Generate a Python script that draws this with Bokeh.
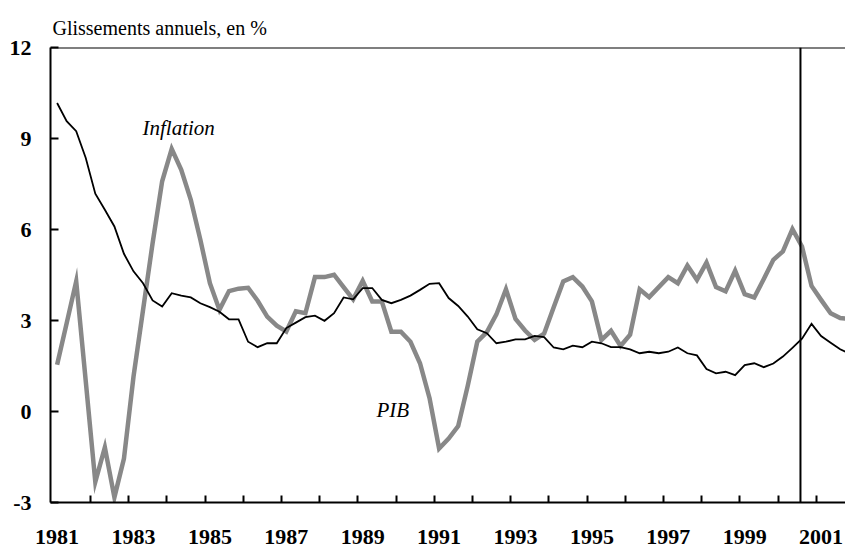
from bokeh.plotting import figure
from bokeh.models import Range1d, FixedTicker, Span, Label
from bokeh.embed import file_html
from bokeh.resources import INLINE

# Quarterly data, 1981Q1 .. 2001Q4
start_year = 1981
inflation = [10.17, 9.57, 9.24, 8.36, 7.18, 6.65, 6.10, 5.20, 4.62, 4.23,
             3.66, 3.46, 3.90, 3.82, 3.76, 3.57, 3.44, 3.29, 3.04, 3.04,
             2.30, 2.12, 2.25, 2.25, 2.75, 2.93, 3.11, 3.16, 2.99, 3.24,
             3.76, 3.70, 4.07, 4.07, 3.68, 3.57, 3.68, 3.82, 4.01, 4.21,
             4.23, 3.74, 3.48, 3.13, 2.71, 2.58, 2.25, 2.30, 2.38, 2.38,
             2.49, 2.45, 2.11, 2.05, 2.17, 2.12, 2.30, 2.25, 2.12, 2.12,
             2.05, 1.92, 1.97, 1.92, 1.97, 2.11, 1.92, 1.85, 1.40, 1.26,
             1.31, 1.20, 1.53, 1.59, 1.46, 1.58, 1.81, 2.10, 2.40, 2.89,
             2.49, 2.27, 2.05, 1.90]
pib = [1.54, 2.91, 4.29, 1.00, -2.32, -1.18, -2.83, -1.55, 1.15, 3.35,
       5.55, 7.59, 8.66, 7.97, 6.98, 5.66, 4.23, 3.35, 3.97, 4.05,
       4.08, 3.65, 3.13, 2.83, 2.64, 3.30, 3.24, 4.43, 4.43, 4.51,
       4.10, 3.70, 4.31, 3.63, 3.63, 2.63, 2.63, 2.30, 1.59, 0.44,
       -1.22, -0.89, -0.48, 0.85, 2.30, 2.62, 3.20, 4.03, 3.05, 2.67,
       2.36, 2.57, 3.44, 4.29, 4.43, 4.12, 3.63, 2.36, 2.66, 2.16,
       2.53, 4.03, 3.77, 4.10, 4.43, 4.23, 4.81, 4.34, 4.91, 4.10,
       3.96, 4.64, 3.87, 3.76, 4.37, 5.00, 5.28, 6.01, 5.44, 4.14,
       3.68, 3.24, 3.08, 3.05]
label_years = [1981, 1983, 1985, 1987, 1989, 1991, 1993, 1995, 1997, 1999, 2001]
y_ticks = [-3, 0, 3, 6, 9, 12]
forecast_start = 2000.46
title_text = "Glissements annuels, en %"

t = [start_year + i / 4 for i in range(len(inflation))]
boundaries = [y + 0.875 for y in range(1981, 2001)]

SERIF = "Liberation Serif"
p = figure(width=845, height=548, output_backend="svg", toolbar_location=None,
           x_range=Range1d(1980.827, 2001.639), y_range=Range1d(-3, 12),
           min_border_left=50, min_border_right=0, min_border_top=47,
           min_border_bottom=46, title=title_text)
p.title.text_font = SERIF
p.title.text_font_size = "20px"
p.title.text_font_style = "normal"
p.title.text_color = "black"
p.title.align = "left"
p.title.offset = 2
p.title.standoff = 18

p.xgrid.visible = False
p.ygrid.visible = False
p.outline_line_color = None
p.background_fill_color = "white"
p.border_fill_color = "white"

xa = p.xaxis[0]
xa.ticker = FixedTicker(ticks=label_years, minor_ticks=boundaries)
xa.major_label_overrides = {y: str(y) for y in label_years}
xa.major_tick_in = 0
xa.major_tick_out = 0
xa.minor_tick_in = 7
xa.minor_tick_out = 0
xa.minor_tick_line_width = 2
xa.minor_tick_line_color = "black"
xa.axis_line_width = 2
xa.axis_line_color = "black"
xa.major_label_text_font = SERIF
xa.major_label_text_font_style = "bold"
xa.major_label_text_font_size = "22px"
xa.major_label_text_color = "black"
xa.major_label_standoff = 27

ya = p.yaxis[0]
ya.ticker = FixedTicker(ticks=y_ticks)
ya.major_label_overrides = {v: str(v) for v in y_ticks}
ya.major_tick_in = 8
ya.major_tick_out = 0
ya.major_tick_line_width = 2
ya.major_tick_line_color = "black"
ya.minor_tick_line_color = None
ya.axis_line_width = 2
ya.axis_line_color = "black"
ya.major_label_text_font = SERIF
ya.major_label_text_font_style = "bold"
ya.major_label_text_font_size = "22px"
ya.major_label_text_color = "black"
ya.major_label_standoff = 19

p.line(t, pib, line_color="#888888", line_width=4.5, line_join="miter")
p.line(t, inflation, line_color="black", line_width=1.8, line_join="miter")

p.add_layout(Span(location=12, dimension="width", line_color="black", line_width=2))
p.add_layout(Span(location=forecast_start, dimension="height", line_color="black", line_width=2))

p.add_layout(Label(x=1983.235, y=9.36, text="Inflation", text_font=SERIF,
                   text_font_style="italic", text_font_size="21px", text_color="black",
                   text_baseline="alphabetic", text_align="left"))
p.add_layout(Label(x=1989.36, y=0.05, text="PIB", text_font=SERIF,
                   text_font_style="italic", text_font_size="21px", text_color="black",
                   text_baseline="alphabetic", text_align="left"))

open("out.html", "w").write(file_html(p, INLINE))
